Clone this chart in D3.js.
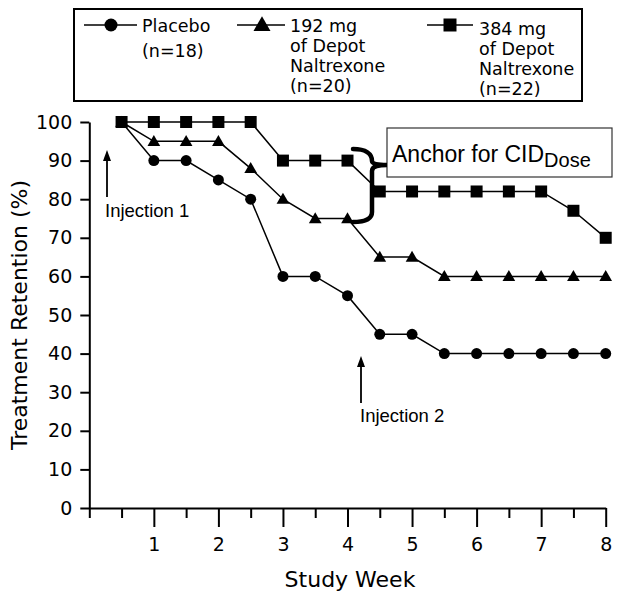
<!DOCTYPE html>
<html><head><meta charset="utf-8">
<script src="https://cdn.jsdelivr.net/npm/d3@7"></script>
<style>html,body{margin:0;padding:0;background:#fff}svg{display:block}</style>
</head><body>
<svg id="c" width="624" height="600"></svg>
<script>
const weeks = [0.5,1,1.5,2,2.5,3,3.5,4,4.5,5,5.5,6,6.5,7,7.5,8];
const placebo = [100,90,90,85,80,60,60,55,45,45,40,40,40,40,40,40];
const dose192 = [100,95,95,95,88,80,75,75,65,65,60,60,60,60,60,60];
const dose384 = [100,100,100,100,100,90,90,90,82,82,82,82,82,82,77,70];
const seriesNames = ["Placebo","192 mg","384 mg"];
const legendLines = [["Placebo","(n=18)"],["192 mg","of Depot","Naltrexone","(n=20)"],["384 mg","of Depot","Naltrexone","(n=22)"]];
const yTicks = [0,10,20,30,40,50,60,70,80,90,100];
const xTicks = [0,0.5,1,1.5,2,2.5,3,3.5,4,4.5,5,5.5,6,6.5,7,7.5,8];

const svg = d3.select("#c");
const x = d3.scaleLinear().domain([0,8]).range([89.3,605.7]);
const y = d3.scaleLinear().domain([0,100]).range([508,122]);
const VER = "DejaVu Sans, Verdana, sans-serif";
const ARI = "Liberation Sans, Arial, sans-serif";

// Y axis
const ya = svg.append("g").attr("transform","translate(89.3,0)")
  .call(d3.axisLeft(y).tickValues(yTicks).tickSize(9).tickSizeOuter(0).tickPadding(8));
ya.select(".domain").attr("stroke","#000").attr("stroke-width",2);
ya.selectAll(".tick line").attr("stroke","#000").attr("stroke-width",2);
ya.selectAll(".tick text").attr("font-family",VER).attr("font-size",19).attr("fill","#000");

// X axis
const xa = svg.append("g").attr("transform","translate(0,508)")
  .call(d3.axisBottom(x).tickValues(xTicks).tickSize(10).tickSizeOuter(0)
    .tickFormat(d => (Number.isInteger(d) && d>0) ? d : ""));
xa.select(".domain").attr("stroke","#000").attr("stroke-width",2);
xa.selectAll(".tick line").attr("stroke","#000").attr("stroke-width",2)
  .attr("y2", d => (Number.isInteger(d) && d>0) ? 19 : 10);
xa.selectAll(".tick text").attr("font-family",VER).attr("font-size",19).attr("fill","#000").attr("y",30);

// axis titles
svg.append("text").attr("transform","translate(27,315) rotate(-90)").attr("text-anchor","middle")
  .attr("font-family",VER).attr("font-size",22).text("Treatment Retention (%)");
svg.append("text").attr("x",350).attr("y",587).attr("text-anchor","middle")
  .attr("font-family",VER).attr("font-size",22).text("Study Week");

// series
const data = [placebo,dose192,dose384];
const syms = [d3.symbolCircle,d3.symbolTriangle,d3.symbolSquare];
const sizes = [95,70,144];
const line = d3.line().x((d,i)=>x(weeks[i])).y(d=>y(d));
data.forEach((vals,k)=>{
  svg.append("path").datum(vals).attr("d",line).attr("fill","none").attr("stroke","#000").attr("stroke-width",1.5);
});
data.forEach((vals,k)=>{
  svg.append("g").selectAll("path").data(vals).join("path")
    .attr("d",d3.symbol(syms[k],sizes[k]))
    .attr("transform",(d,i)=>`translate(${x(weeks[i])},${y(d) + (k===1?1:0)})`)
    .attr("fill","#000");
});

// legend
svg.append("rect").attr("x",74).attr("y",9).attr("width",508).attr("height",92)
  .attr("fill","none").attr("stroke","#000").attr("stroke-width",2);
const legX = [[84,137,111,142],[237,285,262,290],[427,473,450,479]];
const legBase = [32,32,35];
const legStep = [25,20,20];
const legSizes = [133,125,169];
legX.forEach((p,k)=>{
  svg.append("line").attr("x1",p[0]).attr("x2",p[1]).attr("y1",25).attr("y2",25).attr("stroke","#000").attr("stroke-width",1.5);
  svg.append("path").attr("d",d3.symbol(syms[k],legSizes[k])).attr("transform",`translate(${p[2]},${k===1?26:25})`).attr("fill","#000");
  const t = svg.append("text").attr("font-family",VER).attr("font-size",17.5);
  legendLines[k].forEach((s,j)=>{
    t.append("tspan").attr("x",p[3]).attr("y",legBase[k]+j*legStep[k]).text(s);
  });
});

// annotation box
svg.append("rect").attr("x",387).attr("y",128).attr("width",225).attr("height",49)
  .attr("fill","#fff").attr("stroke","#333").attr("stroke-width",1.2);
const at = svg.append("text").attr("x",392).attr("y",162).attr("font-family",ARI).attr("font-size",23);
at.append("tspan").text("Anchor for CID");
at.append("tspan").attr("font-size",20).attr("dy",5).text("Dose");

// brace
svg.append("path")
  .attr("d","M353,149 C366,149 372,154 372,161 C372,164 378,165 387,165 C378,165 372,166 372,171 L372,212 C372,219 366,222 353,222")
  .attr("fill","none").attr("stroke","#000").attr("stroke-width",4.5).attr("stroke-linecap","round");

// injection arrows
function arrow(ax, y0, y1){
  svg.append("line").attr("x1",ax).attr("x2",ax).attr("y1",y0).attr("y2",y1+9).attr("stroke","#000").attr("stroke-width",1.8);
  svg.append("path").attr("d",`M${ax},${y1} L${ax-4},${y1+11} L${ax+4},${y1+11} Z`).attr("fill","#000");
}
arrow(107,197,150);
arrow(361,403,356);
svg.append("text").attr("x",105).attr("y",217).attr("font-family",ARI).attr("font-size",18.5).text("Injection 1");
svg.append("text").attr("x",360).attr("y",422).attr("font-family",ARI).attr("font-size",18.5).text("Injection 2");
</script>
</body></html>
